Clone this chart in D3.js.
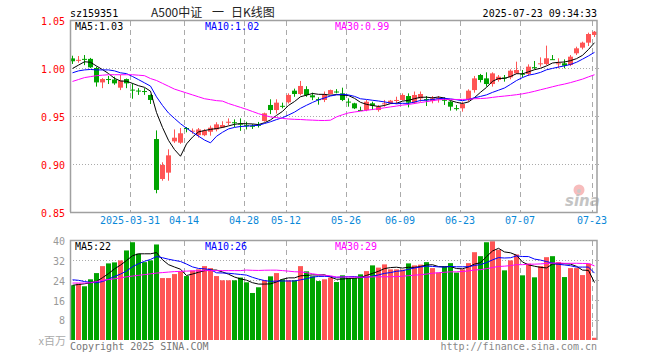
<!DOCTYPE html>
<html><head><meta charset="utf-8">
<script src="https://cdn.jsdelivr.net/npm/d3@7"></script>
<style>body{margin:0;background:#fff}svg{display:block}</style>
</head><body><svg id="c" width="660" height="360"></svg>
<script>
const opens = [1.010,1.0075,1.0095,1.0095,1.000,0.985,0.9885,0.988,0.9795,0.9885,
0.9775,0.9765,0.976,0.9719,0.926,0.8844,0.891,0.9236,0.9222,0.9375,
0.934,0.930,0.930,0.9336,0.936,0.9382,0.9435,0.9435,0.942,0.9405,
0.9398,0.9408,0.9448,0.9615,0.9562,0.9606,0.9643,0.9764,0.9729,0.978,
0.9715,0.9676,0.9667,0.9729,0.9755,0.9736,0.965,0.9632,0.9563,0.9562,
0.9632,0.9562,0.9630,0.963,0.9665,0.9667,0.9708,0.9639,0.9684,0.9676,
0.9656,0.9682,0.9669,0.9649,0.9582,0.958,0.9667,0.977,0.9927,0.9892,
0.9833,0.9875,0.9901,0.9903,0.9944,0.994,0.9938,1.0009,1.0047,1.0042,
1.0092,1.0047,1.0049,1.0031,1.0153,1.0212,1.0264,1.0344];
const closes = [1.007,1.0085,1.009,1.0007,0.985,0.9885,0.988,0.984,0.9868,0.984,
0.977,0.976,0.9755,0.9667,0.873,0.899,0.909,0.9274,0.932,0.937,
0.9347,0.936,0.9347,0.9378,0.9413,0.9406,0.944,0.943,0.9417,0.9403,
0.9396,0.9406,0.9528,0.9562,0.9639,0.9604,0.9719,0.9729,0.9813,0.9719,
0.9694,0.9674,0.9726,0.977,0.9753,0.9667,0.9649,0.958,0.9562,0.9649,
0.9608,0.9597,0.9632,0.966,0.9667,0.9719,0.9639,0.9719,0.9729,0.9674,
0.9684,0.9684,0.9667,0.9597,0.958,0.9625,0.9764,0.9892,0.9875,0.9833,
0.9944,0.9909,0.9899,0.9972,0.9979,0.9938,1.0014,1.0007,1.0049,1.0101,
1.009,1.0049,1.0024,1.0118,1.0205,1.0264,1.0354,1.0378];
const highs = [1.0128,1.0125,1.0135,1.0105,1.0014,0.9895,0.9917,0.991,0.9927,0.989,
0.984,0.979,0.979,0.9725,0.935,0.9018,0.9153,0.936,0.9375,0.9385,
0.937,0.9375,0.9365,0.940,0.9435,0.9445,0.9475,0.9465,0.9475,0.944,
0.9415,0.9438,0.9535,0.9674,0.9674,0.9639,0.9736,0.9785,0.9865,0.981,
0.9743,0.9695,0.9755,0.9775,0.978,0.9795,0.9684,0.9638,0.9597,0.9667,
0.9649,0.9614,0.9667,0.9667,0.9701,0.9736,0.9736,0.9755,0.9755,0.9708,
0.9708,0.9708,0.9694,0.9656,0.9615,0.9649,0.9778,0.9917,0.9938,0.9955,
0.9955,0.9927,0.9927,0.9986,1.0066,0.9979,1.0038,1.0073,1.0111,1.0233,
1.0135,1.0101,1.009,1.0135,1.0222,1.0274,1.0368,1.0385];
const lows = [1.0042,1.0055,1.003,1.000,0.9806,0.979,0.9833,0.9825,0.977,0.979,
0.968,0.972,0.972,0.9625,0.8695,0.8826,0.8826,0.922,0.921,0.933,
0.9315,0.9275,0.929,0.9295,0.934,0.9375,0.9405,0.9385,0.9345,0.936,
0.9365,0.938,0.944,0.952,0.9525,0.958,0.963,0.970,0.9715,0.970,
0.9665,0.9618,0.9645,0.9725,0.9736,0.9655,0.9597,0.9572,0.9552,0.955,
0.9562,0.9545,0.9597,0.9625,0.9632,0.966,0.959,0.9625,0.9649,0.9604,
0.9632,0.9639,0.9615,0.9556,0.9556,0.9545,0.9649,0.9743,0.985,0.9806,
0.9806,0.9858,0.9858,0.9882,0.9937,0.9903,0.9917,0.9986,1.0014,1.0031,
1.0085,0.9997,0.9997,1.002,1.0135,1.0194,1.0229,1.0323];
const volumes = [22.0,22.7,21.6,24.4,26.9,29.7,30.8,31.2,32.0,36.0,
39.3,34.7,31.3,32.0,38.4,24.9,24.9,26.5,27.6,25.7,
27.9,28.4,29.7,28.9,25.7,24.0,24.0,24.0,25.1,23.2,
18.9,21.2,24.0,25.6,26.9,24.4,24.0,24.0,29.7,27.6,
25.6,23.7,24.4,25.1,23.3,26.0,24.9,24.9,26.4,27.7,
30.0,29.1,30.4,28.4,28.4,28.3,30.8,30.0,30.3,31.3,
28.9,27.1,29.6,30.9,27.1,28.4,30.9,35.3,33.7,39.3,
39.7,36.3,28.0,32.0,34.4,26.0,30.7,25.2,29.7,33.3,
33.7,31.3,25.3,28.9,28.9,26.1,30.7,0.9];
// moving-average values before a full window exists
const ma5Head = [0.9995,1.003,1.0065,1.006];
const ma10Head = [0.995,0.997,0.998,0.9985,0.998,0.998,0.998,0.997,0.995];
const ma30Head = [0.986,0.988,0.990,0.991,0.992,0.9925,0.993,0.993,0.993,0.993,
0.993,0.9925,0.992,0.989,0.987,0.984,0.981,0.978,0.976,0.974,
0.972,0.970,0.968,0.967,0.966,0.9655,0.963,0.961,0.959];
const vma5Head = [22.0,22.3,22.6,23.0];
const vma10Head = [24.2,24.0,23.5,23.2,23.0,23.5,24.5,25.5,26.5];
const vma30Head = [22.9,22.9,22.9,23.0,23.5,24.0,24.3,24.6,25.0,25.4,
25.7,26.0,26.3,26.6,26.9,27.1,27.3,27.5,27.6,27.7,
27.8,27.8,27.9,27.9,27.9,27.9,27.9,27.9,27.9];
const tickIdx = [10,19,29,36,46,55,65,75,87];
const tickLabels = ["2025-03-31","04-14","04-28","05-12","05-26","06-09","06-23","07-07","07-23"];
const priceTicks = [0.85,0.90,0.95,1.00,1.05];
const priceGrid = [0.90,0.95,1.00];
const volTicks = [8,16,24,32,40];
const volGrid = [8,16,24,32];
const priceMaLabels = ["MA5:1.03","MA10:1.02","MA30:0.99"];
const volMaLabels = ["MA5:22","MA10:26","MA30:29"];

const RED = "#ff5555", GREEN = "#00a400", GRID = "#aaaaaa", BORDER = "#a0a0a0";
const MONO = "'DejaVu Sans Mono', monospace";
const maColors = ["#000000","#0000ff","#ff00ff"];

const svg = d3.select("#c");
const n = closes.length;
const x = d3.scaleBand().domain(d3.range(n)).range([70, 598]).padding(0);
const cx = i => x(i) + 2.5;
const yP = d3.scaleLinear().domain([0.85, 1.05]).range([212, 20]);
const yV = d3.scaleLinear().domain([0, 40]).range([340, 240.5]);
const up = i => closes[i] >= opens[i];

function ma(arr, w, head) {
  return arr.map((v, i) => i < w - 1 ? head[i] : d3.mean(arr.slice(i - w + 1, i + 1)));
}
const pMA = [ma(closes,5,ma5Head), ma(closes,10,ma10Head), ma(closes,30,ma30Head)];
const vMA = [ma(volumes,5,vma5Head), ma(volumes,10,vma10Head), ma(volumes,30,vma30Head)];

// watermark
const wm = svg.append("g");
wm.append("circle").attr("cx",579).attr("cy",190).attr("r",5.5).attr("fill","#f7bcbc");
wm.append("circle").attr("cx",579).attr("cy",191).attr("r",2).attr("fill","#c9c9c9");
wm.append("text").attr("x",565).attr("y",206).text("sina")
  .attr("font-family","'DejaVu Sans', sans-serif").attr("font-style","italic").attr("font-weight","bold")
  .attr("font-size",15).attr("fill","#c4c4c4");

// grids
const g = svg.append("g");
g.selectAll(".hp").data(priceGrid).join("line")
  .attr("x1",70).attr("x2",599).attr("y1",d=>Math.round(yP(d))+0.5).attr("y2",d=>Math.round(yP(d))+0.5)
  .attr("stroke",GRID).attr("stroke-dasharray","1,2");
g.selectAll(".hv").data(volGrid).join("line")
  .attr("x1",70).attr("x2",599).attr("y1",d=>Math.round(yV(d))+0.5).attr("y2",d=>Math.round(yV(d))+0.5)
  .attr("stroke",GRID).attr("stroke-dasharray","1,2");
tickIdx.forEach(i => {
  const xx = x(i) + 0.5;
  g.append("line").attr("x1",xx).attr("x2",xx).attr("y1",21).attr("y2",212)
    .attr("stroke",GRID).attr("stroke-dasharray","5,4");
  g.append("line").attr("x1",xx).attr("x2",xx).attr("y1",241).attr("y2",340)
    .attr("stroke",GRID).attr("stroke-dasharray","5,4");
});

// candles
const cg = svg.append("g");
d3.range(n).forEach(i => {
  const col = up(i) ? RED : GREEN;
  cg.append("line").attr("x1",cx(i)).attr("x2",cx(i))
    .attr("y1",yP(highs[i])).attr("y2",yP(lows[i])).attr("stroke",col);
  const top = yP(Math.max(opens[i], closes[i])), bot = yP(Math.min(opens[i], closes[i]));
  cg.append("rect").attr("x",x(i)).attr("width",5)
    .attr("y",top).attr("height",Math.max(1, bot - top)).attr("fill",col);
});

// volume bars
svg.append("g").selectAll("rect").data(volumes).join("rect")
  .attr("x",(d,i)=>x(i)).attr("width",5)
  .attr("y",d=>yV(d)).attr("height",d=>340-yV(d))
  .attr("fill",(d,i)=>up(i)?RED:GREEN);

// MA lines
const lp = d3.line().x((d,i)=>cx(i)).y(d=>yP(d));
const lv = d3.line().x((d,i)=>cx(i)).y(d=>yV(d));
pMA.forEach((s,k)=> svg.append("path").attr("d",lp(s)).attr("fill","none").attr("stroke",maColors[k]).attr("stroke-width",1));
vMA.forEach((s,k)=> svg.append("path").attr("d",lv(s)).attr("fill","none").attr("stroke",maColors[k]).attr("stroke-width",1));

// borders
const b = svg.append("g").attr("stroke",BORDER).attr("stroke-width",1.5).attr("fill","none");
b.append("path").attr("d","M70.5,212 V20.5 H597 V212.5 H70");
b.append("path").attr("d","M70.5,340 V240.5 H597 V340");

// axes
const axP = svg.append("g").attr("transform","translate(70,0)")
  .call(d3.axisLeft(yP).tickValues(priceTicks).tickFormat(d3.format(".2f")).tickSize(0).tickPadding(5));
axP.select(".domain").remove();
axP.selectAll("text").attr("fill","#ff0000").attr("font-family",MONO).attr("font-size",10).attr("dy","0.42em");

const axX = svg.append("g").attr("transform","translate(-3,212)")
  .call(d3.axisBottom(x).tickValues(tickIdx).tickFormat((d,k)=>tickLabels[k]).tickSize(0).tickPadding(5));
axX.select(".domain").remove();
axX.selectAll("text").attr("fill","#0a88d8").attr("font-family",MONO).attr("font-size",10);

const axV = svg.append("g").attr("transform","translate(70,0)")
  .call(d3.axisLeft(yV).tickValues(volTicks).tickSize(0).tickPadding(5));
axV.select(".domain").remove();
axV.selectAll("text").attr("fill","#999999").attr("font-family",MONO).attr("font-size",10).attr("dy","0.38em");

// header texts
const t = (xx, yy, s, col, anchor, size, fam) => svg.append("text").attr("x",xx).attr("y",yy).text(s)
  .attr("fill",col).attr("text-anchor",anchor||"start").attr("font-size",size||10)
  .attr("font-family",fam||MONO);
t(70,17,"sz159351","#000");
const CJK = "'Noto Sans CJK SC', sans-serif";
t(151,17,"A500中证","#222","start",12,CJK);
t(212,17,"一","#222","start",12,CJK);
t(231,17,"日K线图","#222","start",12,CJK);
t(597,17,"2025-07-23 09:34:33","#000","end");
[75,205,335].forEach((xx,k)=>{ t(xx,30,priceMaLabels[k],maColors[k]); t(xx,250,volMaLabels[k],maColors[k]); });
t(66,345,"x百万","#aaaaaa","end",11,CJK);
t(70,350,"Copyright 2025 SINA.COM","#777777");
t(597,350,"http://finance.sina.com.cn","#888888","end");
</script></body></html>
